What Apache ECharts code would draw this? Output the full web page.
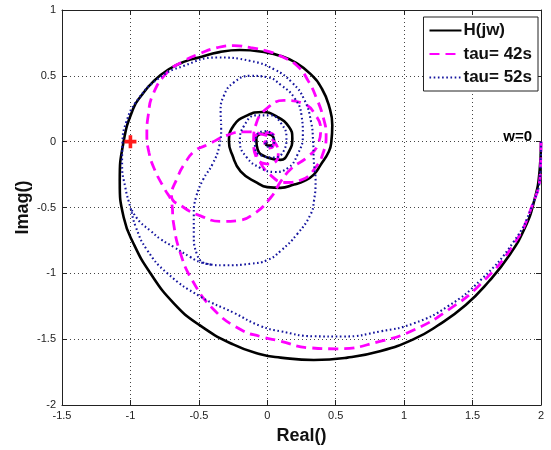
<!DOCTYPE html>
<html>
<head>
<meta charset="utf-8">
<script src="https://cdn.jsdelivr.net/npm/echarts@6/dist/echarts.min.js"></script>
<style>
  html, body { margin: 0; padding: 0; background: #fff; }
  #chart { width: 551px; height: 450px; }
</style>
</head>
<body>
<div id="chart"></div>
<script>
// Nyquist curves: real and imaginary parts, ordered from w = 0 upward.
const hRe = [2.0, 1.99, 1.95, 1.88, 1.77, 1.62, 1.45, 1.24, 1.07, 0.83, 0.585, 0.34, 0.097, -0.05, -0.25, -0.5, -0.683, -0.854, -0.976, -1.049, -1.078, -1.05, -0.98, -0.92, -0.83, -0.72, -0.6, -0.5, -0.35, -0.2, 0.0, 0.1, 0.2, 0.317, 0.40, 0.45, 0.475, 0.468, 0.45, 0.39, 0.34, 0.268, 0.195, 0.097, 0.0, -0.073, -0.195, -0.256, -0.28, -0.244, -0.146, -0.037, 0.073, 0.158, 0.183, 0.158, 0.097, 0.0, -0.07, -0.08, -0.03, 0.03, 0.05, 0.02, -0.01, 0.0];
const hIm = [0.0, -0.22, -0.45, -0.66, -0.86, -1.06, -1.24, -1.40, -1.50, -1.59, -1.64, -1.658, -1.64, -1.615, -1.54, -1.39, -1.228, -1.0, -0.777, -0.576, -0.3, 0.0, 0.25, 0.35, 0.46, 0.55, 0.61, 0.64, 0.68, 0.696, 0.676, 0.65, 0.605, 0.513, 0.40, 0.275, 0.125, 0.0, -0.075, -0.176, -0.25, -0.30, -0.326, -0.351, -0.345, -0.313, -0.225, -0.10, 0.0, 0.125, 0.2, 0.225, 0.188, 0.113, 0.025, -0.075, -0.138, -0.12, -0.06, 0.02, 0.06, 0.05, 0.0, -0.03, -0.02, 0.0];

const t42Re = [2.0, 1.995, 1.93, 1.80, 1.56, 1.32, 1.07, 0.83, 0.51, 0.30, 0.097, -0.05, -0.195, -0.39, -0.55, -0.64, -0.685, -0.70, -0.75, -0.82, -0.865, -0.88, -0.87, -0.835, -0.73, -0.61, -0.488, -0.366, -0.244, -0.122, 0.0, 0.097, 0.22, 0.30, 0.36, 0.41, 0.43, 0.41, 0.35, 0.25, 0.13, 0.02, -0.06, -0.1, -0.08, 0.0, 0.122, 0.268, 0.353, 0.39, 0.37, 0.29, 0.18, 0.1, 0.024, -0.1, -0.22, -0.34, -0.488, -0.61, -0.70, -0.66, -0.6, -0.53, -0.44, -0.29, -0.17, -0.05, 0.05, 0.08, 0.02, -0.08, -0.1, -0.03, 0.05, 0.04, 0.0, -0.02, 0.0];
const t42Im = [0.0, -0.23, -0.5, -0.78, -1.08, -1.28, -1.43, -1.515, -1.573, -1.565, -1.515, -1.48, -1.427, -1.277, -1.05, -0.83, -0.62, -0.46, -0.36, -0.22, -0.08, 0.06, 0.2, 0.36, 0.526, 0.613, 0.671, 0.714, 0.73, 0.714, 0.688, 0.65, 0.575, 0.46, 0.33, 0.18, 0.05, -0.08, -0.2, -0.29, -0.31, -0.25, -0.14, 0.0, 0.14, 0.255, 0.313, 0.288, 0.2, 0.1, -0.02, -0.12, -0.2, -0.3, -0.426, -0.55, -0.6, -0.606, -0.564, -0.5, -0.41, -0.28, -0.16, -0.07, -0.025, 0.05, 0.075, 0.06, 0.0, -0.1, -0.17, -0.12, 0.0, 0.07, 0.04, -0.04, -0.05, 0.0, 0.0];

const t52Re = [2.0, 1.995, 1.93, 1.80, 1.56, 1.32, 1.07, 0.83, 0.55, 0.34, 0.097, -0.05, -0.244, -0.488, -0.73, -0.88, -0.96, -1.0, -1.037, -1.061, -1.058, -1.03, -0.96, -0.8, -0.61, -0.366, -0.122, 0.049, 0.18, 0.27, 0.32, 0.335, 0.34, 0.353, 0.341, 0.317, 0.22, 0.097, 0.0, -0.122, -0.317, -0.44, -0.512, -0.537, -0.537, -0.52, -0.47, -0.40, -0.35, -0.337, -0.341, -0.317, -0.244, -0.122, 0.0, 0.1, 0.2, 0.25, 0.26, 0.22, 0.15, 0.05, -0.05, -0.15, -0.2, -0.17, -0.08, 0.02, 0.1, 0.14, 0.12, 0.05, -0.03, -0.09, -0.08, -0.02, 0.04, 0.05, 0.01, -0.02, 0.0];
const t52Im = [0.0, -0.23, -0.5, -0.76, -1.05, -1.25, -1.38, -1.44, -1.48, -1.478, -1.44, -1.40, -1.30, -1.177, -1.0, -0.82, -0.65, -0.5, -0.35, -0.175, 0.0, 0.15, 0.3, 0.476, 0.576, 0.639, 0.613, 0.55, 0.45, 0.32, 0.15, 0.0, -0.15, -0.30, -0.45, -0.551, -0.70, -0.83, -0.90, -0.927, -0.939, -0.927, -0.86, -0.70, -0.551, -0.42, -0.29, -0.17, -0.03, 0.10, 0.225, 0.35, 0.45, 0.5, 0.49, 0.43, 0.33, 0.2, 0.05, -0.1, -0.2, -0.23, -0.2, -0.12, 0.0, 0.12, 0.2, 0.2, 0.14, 0.03, -0.07, -0.12, -0.11, -0.04, 0.04, 0.08, 0.05, -0.01, -0.04, 0.0, 0.0];
// Second visible strand of the tau = 52 s curve, lower left
const t52bRe = [-0.99, -0.93, -0.854, -0.78, -0.683, -0.561, -0.49, -0.40];
const t52bIm = [-0.52, -0.61, -0.676, -0.74, -0.80, -0.877, -0.915, -0.935];

// Critical point and the w = 0 annotation
const critical = [-1, 0];
const wZeroText = 'w=0';
const wZeroAt = [1.935, 0.035];

// Axis ticks
const xTicks = { min: -1.5, max: 2, step: 0.5 };
const yTicks = { min: -2, max: 1, step: 0.5 };

const pairs = (re, im) => re.map((v, i) => [v, im[i]]);

const chart = echarts.init(document.getElementById('chart'), null, { renderer: 'canvas' });

const labelFont = 'Liberation Sans, Arial, Helvetica, sans-serif';
const nameStyle = { fontFamily: labelFont, fontSize: 18, fontWeight: 'bold', color: '#111' };
const gridLine = { show: true, lineStyle: { color: '#444', type: [1, 3], width: 1 } };
const boxAxis = (extra) => Object.assign({
  type: 'value',
  axisLine: { show: true, onZero: false, lineStyle: { color: '#222', width: 1 } },
  axisTick: { show: true, inside: true, length: 5, lineStyle: { color: '#222' } }
}, extra);

const magenta = { color: '#ff00ff', width: 2.8, type: [10, 6] };
const navy = { color: '#14149e', width: 2.1, type: [1.6, 2.6] };

chart.setOption({
  animation: false,
  backgroundColor: '#fff',
  grid: { left: 62, right: 10, top: 10, bottom: 41, containLabel: false },
  legend: {
    top: 17, right: 13, orient: 'vertical',
    backgroundColor: '#fff', borderColor: '#222', borderWidth: 1, borderRadius: 0,
    padding: [5, 6, 5, 5], itemGap: 6.5, itemWidth: 32, itemHeight: 14,
    itemStyle: { opacity: 0 },
    textStyle: { fontFamily: labelFont, fontSize: 17, fontWeight: 'bold', color: '#111', padding: [0, 0, 0, -3] },
    data: ['H(jw)', 'tau= 42s', 'tau= 52s']
  },
  xAxis: [
    boxAxis({
      min: xTicks.min, max: xTicks.max, interval: xTicks.step,
      name: 'Real()', nameLocation: 'middle', nameGap: 22, nameMoveOverlap: false,
      nameTextStyle: nameStyle,
      axisLabel: { margin: 5, fontFamily: labelFont, fontSize: 11, color: '#222' },
      splitLine: gridLine
    }),
    boxAxis({
      position: 'top', min: xTicks.min, max: xTicks.max, interval: xTicks.step,
      axisLabel: { show: false }, splitLine: { show: false }
    })
  ],
  yAxis: [
    boxAxis({
      min: yTicks.min, max: yTicks.max, interval: yTicks.step,
      name: 'Imag()', nameLocation: 'middle', nameGap: 30, nameRotate: 90, nameMoveOverlap: false,
      nameTextStyle: nameStyle,
      axisLabel: { margin: 6, fontFamily: labelFont, fontSize: 11, color: '#222' },
      splitLine: gridLine
    }),
    boxAxis({
      position: 'right', min: yTicks.min, max: yTicks.max, interval: yTicks.step,
      axisLabel: { show: false }, splitLine: { show: false }
    })
  ],
  series: [
    {
      name: 'H(jw)', type: 'line', data: pairs(hRe, hIm), smooth: 0.5,
      showSymbol: false, symbol: 'none', z: 3,
      lineStyle: { color: '#000', width: 2.6, type: 'solid' },
      itemStyle: { color: '#000' }
    },
    {
      name: 'tau= 42s', type: 'line', data: pairs(t42Re, t42Im), smooth: 0.5,
      showSymbol: false, symbol: 'none', z: 4,
      lineStyle: magenta, itemStyle: { color: magenta.color }
    },
    {
      name: 'tau= 52s', type: 'line', data: pairs(t52Re, t52Im), smooth: 0.5,
      showSymbol: false, symbol: 'none', z: 5,
      lineStyle: navy, itemStyle: { color: navy.color }
    },
    {
      name: 'tau= 52s', type: 'line', data: pairs(t52bRe, t52bIm), smooth: 0.5,
      showSymbol: false, symbol: 'none', z: 5,
      lineStyle: navy, itemStyle: { color: navy.color }
    },
    {
      type: 'scatter', data: [critical], z: 6, silent: true,
      symbol: 'path://M3.5,0H6.5V3.5H10V6.5H6.5V10H3.5V6.5H0V3.5H3.5Z', symbolSize: [12, 13],
      itemStyle: { color: '#ff1a1a', opacity: 1 }
    }
  ]
});

// "w=0" annotation, anchored at its data position
const wp = chart.convertToPixel({ xAxisIndex: 0, yAxisIndex: 0 }, wZeroAt);
chart.setOption({
  graphic: [{
    type: 'text', x: wp[0], y: wp[1], z: 10,
    style: {
      text: wZeroText, fill: '#000', align: 'right', verticalAlign: 'middle',
      font: 'bold 15px ' + labelFont
    }
  }]
});
</script>
</body>
</html>
